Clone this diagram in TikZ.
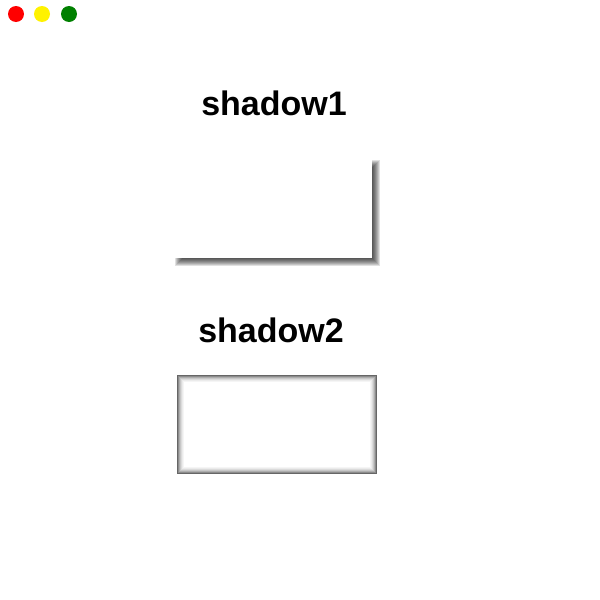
\documentclass[tikz,border=0pt]{standalone}
\usepackage{fontspec}
\setmainfont{Liberation Sans}
\definecolor{dotgreen}{RGB}{0,128,0}
\begin{document}
\begin{tikzpicture}[x=1pt,y=-1pt,
  dot/.style={circle,inner sep=0pt,minimum size=16pt},
  title/.style={font=\fontsize{34}{38}\selectfont\bfseries,inner sep=0pt,anchor=base}]
\useasboundingbox[fill=white] (0,0) rectangle (600,600);
% window dots
\node[dot,fill=red] (d1) at (16,14) {};
\node[dot,fill=yellow] (d2) at (42,14) {};
\node[dot,fill=dotgreen] (d3) at (69,14) {};
% titles
\node[title] (t1) at (274,115) {shadow1};
\node[title] (t2) at (271,342) {shadow2};
% shadow1: drop shadow
\foreach \i in {4,3,...,-4}{
  \fill[black,opacity=0.12] (179-\i,164-\i) rectangle (376+\i,262+\i);
}
\fill[white] (175,160) rectangle (372,258);
\node[inner sep=0pt,minimum width=197pt,minimum height=98pt] (b1) at (273.5,209) {};
% shadow2: inset shadow
\fill[white] (177,375) rectangle (377,474);
\foreach \i/\o in {0.5/0.6,1.5/0.45,2.5/0.32,3.5/0.22,4.5/0.14,5.5/0.08,6.5/0.04}{
  \draw[black,opacity=\o,line width=1pt] (177+\i,375+\i) rectangle (377-\i,474-\i);
}
\node[inner sep=0pt,minimum width=200pt,minimum height=99pt] (b2) at (277,424.5) {};
\end{tikzpicture}
\end{document}
